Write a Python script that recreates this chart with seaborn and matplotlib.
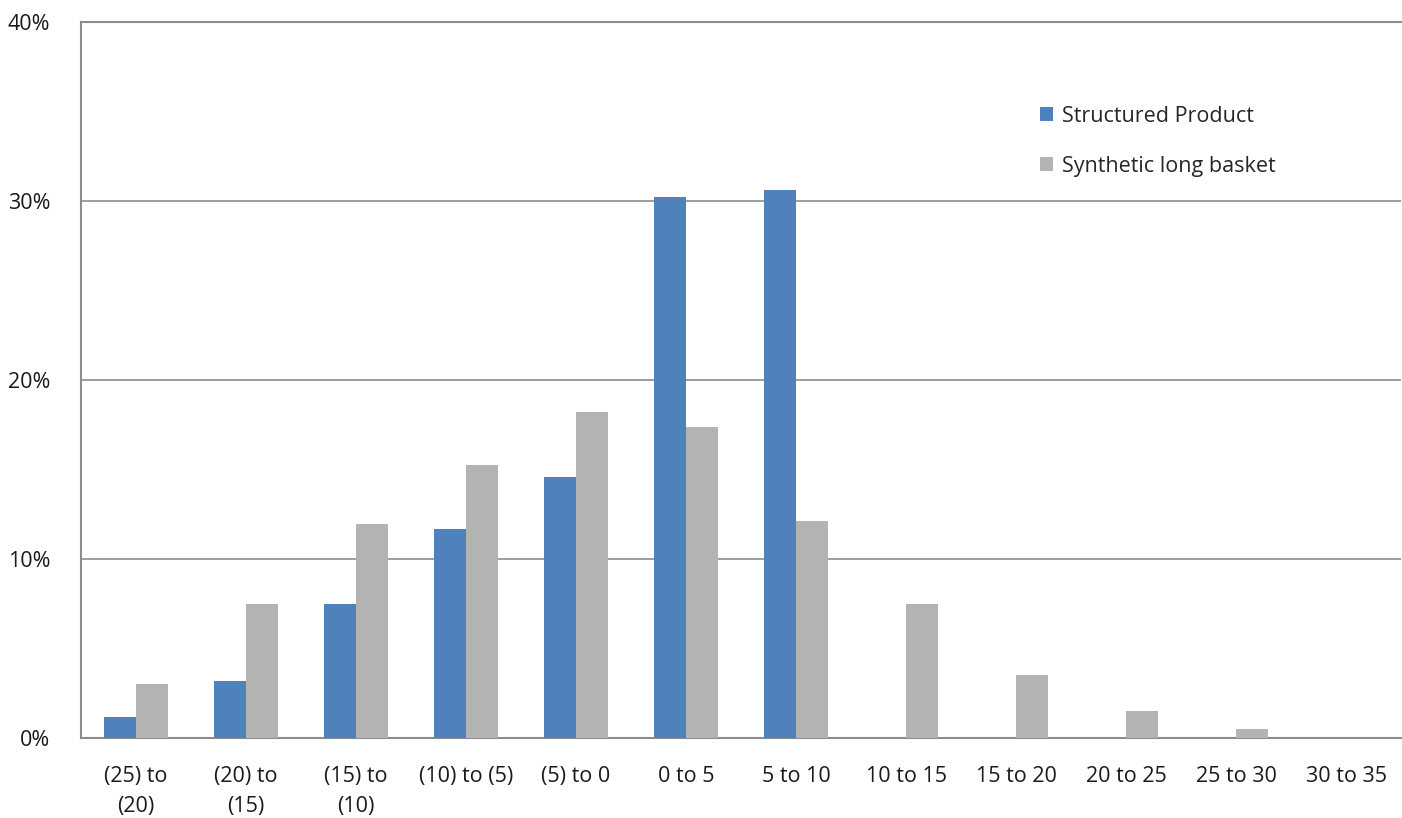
import matplotlib
matplotlib.use('Agg')
import matplotlib.pyplot as plt
import seaborn as sns
import pandas as pd
from matplotlib.ticker import FuncFormatter

# Data (percent of outcomes per return bucket)
buckets = ['(25) to\n(20)', '(20) to\n(15)', '(15) to\n(10)', '(10) to (5)', '(5) to 0',
           '0 to 5', '5 to 10', '10 to 15', '15 to 20', '20 to 25', '25 to 30', '30 to 35']
structured = [1.2, 3.2, 7.5, 11.7, 14.6, 30.2, 30.6, 0, 0, 0, 0, 0]
synthetic = [3.0, 7.5, 11.95, 15.25, 18.2, 17.4, 12.1, 7.5, 3.5, 1.5, 0.5, 0]
series = ['Structured Product', 'Synthetic long basket']

df = pd.DataFrame({
    'bucket': buckets * 2,
    'value': structured + synthetic,
    'series': [series[0]] * len(buckets) + [series[1]] * len(buckets),
})

sns.set_style('white')
plt.rcParams['font.family'] = ['Open Sans', 'DejaVu Sans']

fig = plt.figure(figsize=(14.02, 8.18), dpi=100)
ax = fig.add_axes([81 / 1402, 80 / 818, 1 - 81 / 1402 - 0.0005, (738 - 22) / 818])

sns.barplot(data=df, x='bucket', y='value', hue='series', order=buckets,
            palette=['#4F81BD', '#B3B3B3'], width=0.58, saturation=1,
            linewidth=0, ax=ax, zorder=3)

ax.set_ylim(0, 40)
ax.set_xlim(-0.5, len(buckets) - 0.5)
ax.set_yticks([0, 10, 20, 30, 40])
ax.yaxis.set_major_formatter(FuncFormatter(lambda v, p: f'{v:.0f}%'))
ax.grid(axis='y', color='#8C8C8C', linewidth=1.2, zorder=0)
ax.set_axisbelow(True)
ax.set_xlabel('')
ax.set_ylabel('')
ax.tick_params(axis='both', length=0, labelsize=15.5, colors='#1a1a1a')
ax.tick_params(axis='y', pad=22)
ax.tick_params(axis='x', pad=20)
for lbl in ax.get_xticklabels():
    lbl.set_linespacing(1.55)
for s in ['left', 'bottom', 'top']:
    ax.spines[s].set_color('#8C8C8C')
    ax.spines[s].set_linewidth(1.5)
ax.spines['right'].set_visible(False)

ax.legend(loc='upper left', bbox_to_anchor=(0.712, 0.91), frameon=False,
          fontsize=15.5, handlelength=0.6, handleheight=0.6, handletextpad=0.4,
          labelspacing=1.35)

fig.savefig('out.png', dpi=100)
